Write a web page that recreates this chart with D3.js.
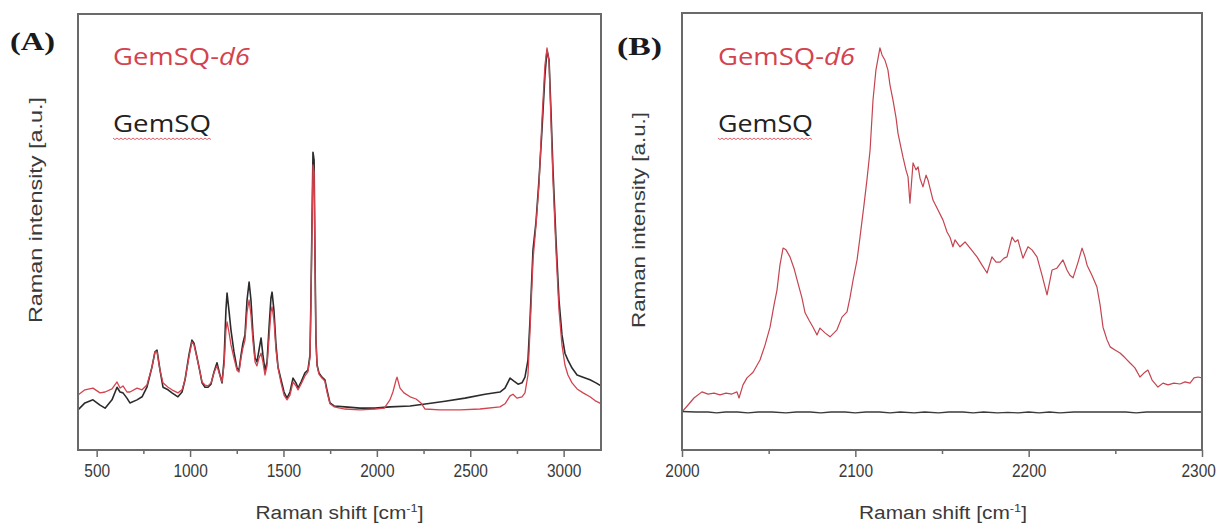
<!DOCTYPE html>
<html>
<head>
<meta charset="utf-8">
<script src="https://cdn.jsdelivr.net/npm/d3@7/dist/d3.min.js"></script>
<style>
  html, body { margin: 0; padding: 0; background: #fff; }
  svg { display: block; }
</style>
</head>
<body>
<svg id="chart" width="1223" height="527"></svg>
<script>
// ---- Panel A: full Raman spectra, [wavenumber (cm-1), intensity (a.u.)] ----
const spectrumA_GemSQ = [
  [400,9.2],[437,10.8],[480,11.5],[518,10.3],[545,9.6],[582,11.5],[609,14.4],[625,13.3],[641,13.1],
  [662,11.9],[678,10.8],[716,11.5],[743,12.2],[769,14.4],[796,19.0],[812,22.5],[823,22.9],[839,18.3],
  [855,14.4],[882,13.8],[903,13.1],[935,12.2],[957,13.3],[973,16.1],[994,21.8],[1010,25.2],[1021,24.5],
  [1037,21.3],[1053,17.9],[1064,15.4],[1080,14.4],[1096,14.4],[1112,15.1],[1128,17.9],[1144,20.0],
  [1160,17.2],[1171,15.4],[1182,20.6],[1192,32.1],[1198,36.0],[1208,32.1],[1219,27.5],[1235,22.5],
  [1251,18.8],[1262,18.3],[1273,21.8],[1283,24.5],[1294,26.4],[1305,34.4],[1316,38.5],[1326,34.4],
  [1337,26.4],[1348,21.1],[1358,20.2],[1369,22.9],[1380,25.7],[1390,21.8],[1401,18.3],[1412,20.2],
  [1422,27.5],[1433,34.9],[1439,36.2],[1449,32.1],[1460,24.1],[1471,19.0],[1487,16.1],[1503,13.3],
  [1519,11.9],[1535,13.3],[1551,16.5],[1567,15.4],[1578,14.2],[1594,15.6],[1615,17.7],[1631,18.3],
  [1642,21.8],[1647,34.4],[1653,52.8],[1658,68.3],[1664,66.5],[1669,43.6],[1674,25.2],[1680,19.5],
  [1690,17.7],[1706,16.7],[1722,16.1],[1733,13.8],[1749,10.8],[1771,10.1],[1829,9.9],[1910,9.6],
  [1990,9.6],[2070,9.9],[2178,10.1],[2269,10.6],[2365,11.2],[2472,11.9],[2579,12.8],[2659,13.3],
  [2686,14.2],[2713,16.5],[2734,15.8],[2756,15.1],[2777,15.4],[2793,16.7],[2809,20.6],[2820,29.8],
  [2836,45.9],[2852,52.3],[2868,61.9],[2884,73.4],[2900,86.0],[2911,91.7],[2922,89.4],[2932,78.0],
  [2943,64.2],[2959,48.2],[2975,34.4],[2991,26.4],[3007,22.2],[3023,20.6],[3045,18.8],[3072,17.2],
  [3104,16.7],[3141,16.1],[3173,15.4],[3200,14.7]
];
const spectrumA_GemSQd6 = [
  [400,12.6],[437,13.8],[480,14.2],[518,13.1],[545,13.3],[582,14.0],[609,15.6],[625,14.2],[641,14.7],
  [662,13.3],[678,13.3],[716,14.2],[743,13.8],[769,14.9],[796,19.0],[812,22.5],[823,22.5],[839,18.3],
  [855,15.4],[882,14.4],[903,13.8],[935,13.1],[957,13.8],[973,16.1],[994,21.3],[1010,24.8],[1021,24.1],
  [1037,21.1],[1053,17.9],[1064,15.6],[1080,14.9],[1096,14.7],[1112,15.4],[1128,17.7],[1144,19.3],
  [1160,17.0],[1171,15.6],[1182,19.5],[1192,27.5],[1198,29.4],[1208,27.1],[1219,24.1],[1235,21.1],
  [1251,18.3],[1262,17.9],[1273,21.1],[1283,23.4],[1294,25.2],[1305,31.7],[1316,34.4],[1326,31.0],
  [1337,24.8],[1348,20.2],[1358,19.3],[1369,21.1],[1380,22.2],[1390,20.2],[1401,17.2],[1412,19.3],
  [1422,25.2],[1433,31.7],[1439,32.8],[1449,29.8],[1460,22.9],[1471,18.8],[1487,15.4],[1503,12.6],
  [1519,11.5],[1535,12.6],[1551,15.6],[1567,14.7],[1578,13.8],[1594,15.1],[1615,17.0],[1631,17.9],
  [1642,21.1],[1647,33.3],[1653,51.6],[1658,65.4],[1664,63.8],[1669,42.4],[1674,24.8],[1680,19.3],
  [1690,17.4],[1706,16.5],[1722,15.8],[1733,13.3],[1749,10.6],[1771,9.9],[1829,9.4],[1910,9.2],
  [1990,9.4],[2040,9.6],[2070,11.5],[2086,13.3],[2103,16.1],[2108,16.7],[2124,14.2],[2145,13.1],
  [2178,12.2],[2210,11.7],[2236,10.8],[2258,9.4],[2338,9.2],[2445,9.2],[2552,9.4],[2659,9.9],
  [2686,10.6],[2713,12.4],[2729,12.8],[2750,11.9],[2777,12.2],[2793,13.1],[2809,17.2],[2820,27.5],
  [2836,43.6],[2852,51.6],[2868,60.8],[2884,75.7],[2900,88.3],[2911,92.2],[2922,89.0],[2932,75.7],
  [2943,61.9],[2959,45.9],[2975,32.1],[2991,24.1],[3007,19.5],[3023,17.2],[3045,15.4],[3072,14.0],
  [3104,13.1],[3141,12.2],[3173,11.2],[3200,10.6]
];

// ---- Panel B: C–D stretching window 2000–2300 cm-1 ----
const spectrumB_GemSQd6 = [
  [2000,8.7],[2003.5,10.3],[2006.9,11.9],[2011.5,13.3],[2015,12.8],[2018.5,13.0],[2021.9,12.6],
  [2025.4,13.0],[2028.8,12.8],[2031.7,13.3],[2032.9,11.9],[2035.2,14.9],[2037.5,16.5],[2041,17.8],
  [2045,20.6],[2047.9,24.0],[2050.8,28.1],[2053.1,33.2],[2054.8,36.6],[2056.5,42.3],[2058.3,46.2],
  [2060,45.8],[2062.3,44.2],[2064.6,41.6],[2066.9,38.2],[2069.2,34.8],[2071,31.4],[2073.3,29.7],
  [2075.6,28.1],[2077.9,26.3],[2079.6,27.9],[2082.5,26.8],[2085.4,25.9],[2087.7,26.8],[2089.4,27.5],
  [2092.3,30.4],[2095.2,31.6],[2096.9,34.8],[2098.7,38.9],[2101,43.5],[2102.7,48.7],[2105,56.1],
  [2106.7,61.8],[2108.5,68.6],[2110.2,80.1],[2111.9,87.0],[2114.2,92.0],[2115.4,90.4],[2117.1,89.2],
  [2118.8,87.0],[2120,83.5],[2121.7,80.1],[2123.5,76.0],[2124.6,72.5],[2126.4,69.1],[2127.5,67.0],
  [2129.2,64.1],[2130.4,62.5],[2131.5,56.5],[2133.3,65.7],[2135,64.1],[2136.2,64.8],[2137.3,62.2],
  [2139,60.2],[2140.8,62.9],[2141.9,61.8],[2144.8,57.2],[2147.7,54.9],[2150.6,52.6],[2152.9,49.9],
  [2154.6,48.7],[2156.3,46.5],[2157.5,48.1],[2160.4,46.5],[2163.3,47.6],[2166.2,46.2],[2170.2,44.2],
  [2173.1,42.3],[2176,40.5],[2178.8,44.2],[2181.2,43.0],[2183.5,43.0],[2185.8,43.9],[2187.5,44.2],
  [2190.4,48.7],[2192.2,47.6],[2193.8,48.1],[2196.7,43.9],[2199.6,46.5],[2201.9,45.8],[2204.8,44.2],
  [2207.7,40.0],[2210.6,35.5],[2213.5,41.2],[2216.3,41.6],[2219.8,43.5],[2222.1,41.2],[2223.8,40.0],
  [2225.6,39.4],[2228.5,43.0],[2230.8,46.2],[2232.5,44.2],[2233.7,42.3],[2236.5,40.0],[2239.4,37.3],
  [2241.2,33.2],[2242.9,28.1],[2245.2,25.2],[2247,23.6],[2249.8,22.9],[2252.7,22.2],[2255.6,21.1],
  [2258.5,19.9],[2261.3,18.8],[2264.2,16.7],[2266.5,17.6],[2268.8,18.3],[2271.2,16.0],[2274.6,14.4],
  [2277.5,15.3],[2280.4,14.9],[2283.8,15.3],[2287.3,15.1],[2290.2,15.6],[2293.1,15.3],[2295.4,16.5],
  [2297.7,16.7],[2300,16.5]
];
const spectrumB_GemSQ = [
  [2000,8.8],[2008,8.7],[2015,8.7],[2020,8.5],[2025,8.7],[2032,8.7],[2038,8.5],[2044,8.7],[2052,8.7],
  [2060,8.5],[2066,8.7],[2074,8.7],[2080,8.5],[2086,8.7],[2094,8.7],[2100,8.5],[2106,8.7],[2114,8.7],
  [2120,8.5],[2126,8.7],[2134,8.5],[2140,8.7],[2148,8.5],[2154,8.7],[2162,8.7],[2168,8.5],[2174,8.7],
  [2182,8.5],[2188,8.6],[2194,8.5],[2200,8.7],[2206,8.5],[2212,8.7],[2218,8.5],[2226,8.7],[2234,8.7],
  [2240,8.7],[2248,8.7],[2256,8.7],[2262,8.5],[2268,8.7],[2276,8.7],[2284,8.7],[2292,8.7],[2300,8.7]
];

// ---- axis tick values ----
const ticksA = [500, 1000, 1500, 2000, 2500, 3000];
const minorTicksA = [750, 1250, 1750, 2250, 2750];
const ticksB = [2000, 2100, 2200, 2300];
const minorTicksB = [2050, 2150, 2250];

const RED = "#d4424e";
const DARK = "#2b2b2b";
const FRAME = "#6a6a6a";
const CANVAS_W = 1223;

const svg = d3.select("#chart");

function panel(opts) {
  const x = d3.scaleLinear().domain(opts.xDomain).range([opts.left, opts.right]);
  const y = d3.scaleLinear().domain([0, 100]).range([opts.bottom, opts.top]);
  const g = svg.append("g");

  // bottom axis: major ticks with labels
  const major = g.append("g").attr("transform", `translate(0,${opts.bottom})`)
    .call(d3.axisBottom(x).tickValues(opts.ticks).tickSize(7).tickPadding(7).tickFormat(d3.format("d")));
  major.select(".domain").remove();
  major.selectAll(".tick line").attr("stroke", FRAME).attr("stroke-width", 1.5);
  major.selectAll(".tick text")
    .attr("font-family", "Liberation Sans, Arial, sans-serif")
    .attr("font-size", 18).attr("fill", "#3a3a3a")
    .attr("text-anchor", "start")
    .each(function(d) {
      // narrow digits; keep the last label inside the canvas
      const natural = this.getComputedTextLength();
      const w = String(d).length * 8.6;
      const tickX = x(d);
      let left = -w / 2;
      const room = CANVAS_W - 2 - tickX;
      if (left + Math.max(w, natural) > room) left = room - Math.max(w, natural);
      d3.select(this).attr("textLength", w).attr("lengthAdjust", "spacingAndGlyphs").attr("x", left);
    });

  // minor ticks
  const minor = g.append("g").attr("transform", `translate(0,${opts.bottom})`)
    .call(d3.axisBottom(x).tickValues(opts.minorTicks).tickSize(4).tickFormat(""));
  minor.select(".domain").remove();
  minor.selectAll(".tick line").attr("stroke", FRAME).attr("stroke-width", 1.5);

  const line = d3.line().x(d => x(d[0])).y(d => y(d[1]));

  const clip = "clip-" + opts.id;
  g.append("clipPath").attr("id", clip).append("rect")
    .attr("x", opts.left).attr("y", opts.top)
    .attr("width", opts.right - opts.left).attr("height", opts.bottom - opts.top);

  const plot = g.append("g").attr("clip-path", `url(#${clip})`);
  opts.series.forEach(s => {
    plot.append("path").datum(s.data)
      .attr("d", line).attr("fill", "none")
      .attr("stroke", s.color).attr("stroke-width", s.width)
      .attr("stroke-linejoin", "round");
  });

  // frame
  g.append("rect")
    .attr("x", opts.left).attr("y", opts.top)
    .attr("width", opts.right - opts.left).attr("height", opts.bottom - opts.top)
    .attr("fill", "none").attr("stroke", FRAME).attr("stroke-width", 2);

  // axis titles
  const xt = g.append("text")
    .attr("x", (opts.left + opts.right) / 2 + opts.xTitleShift).attr("y", 519)
    .attr("text-anchor", "middle")
    .attr("font-family", "Liberation Sans, Arial, sans-serif")
    .attr("font-size", 18).attr("fill", "#3a3a3a")
    .attr("textLength", 168).attr("lengthAdjust", "spacingAndGlyphs");
  xt.append("tspan").text("Raman shift [cm");
  xt.append("tspan").attr("font-size", 11).attr("dy", -7).text("-1");
  xt.append("tspan").attr("dy", 7).text("]");

  g.append("text")
    .attr("transform", `translate(${opts.yTitleX},${opts.yTitleY}) rotate(-90)`)
    .attr("text-anchor", "middle")
    .attr("font-family", "Liberation Sans, Arial, sans-serif")
    .attr("font-size", 18).attr("fill", "#3a3a3a")
    .attr("textLength", opts.yTitleLen).attr("lengthAdjust", "spacingAndGlyphs")
    .text("Raman intensity [a.u.]");

  // panel letter
  g.append("text")
    .attr("x", opts.letterX).attr("y", opts.letterY)
    .attr("font-family", "Liberation Serif, Times New Roman, serif")
    .attr("font-weight", "bold").attr("font-size", 25).attr("fill", "#1a1a1a")
    .attr("textLength", 45).attr("lengthAdjust", "spacingAndGlyphs")
    .text(opts.letter);

  // sample names
  const lx = opts.legendX;
  const t1 = g.append("text")
    .attr("x", lx).attr("y", 65)
    .attr("font-family", "Open Sans, Noto Sans, sans-serif")
    .attr("font-size", 23).attr("fill", RED)
    .attr("textLength", opts.legendLen1).attr("lengthAdjust", "spacingAndGlyphs");
  t1.append("tspan").text("GemSQ-");
  t1.append("tspan").attr("font-style", "italic").text("d6");

  g.append("text")
    .attr("x", lx).attr("y", 132)
    .attr("font-family", "Open Sans, Noto Sans, sans-serif")
    .attr("font-size", 23).attr("fill", "#222")
    .attr("textLength", opts.legendLen2).attr("lengthAdjust", "spacingAndGlyphs")
    .text("GemSQ");

  // wavy spell-check underline beneath the second name
  const wave = [];
  for (let px = lx; px <= lx + opts.legendLen2; px += 2) {
    wave.push([px, 138 + (((px - lx) / 2) % 2 === 0 ? 0 : 1.6)]);
  }
  g.append("path").datum(wave)
    .attr("d", d3.line())
    .attr("fill", "none").attr("stroke", "#e0606c").attr("stroke-width", 1);
}

panel({
  id: "A", xDomain: [400, 3200], left: 78, right: 601, top: 14, bottom: 450,
  ticks: ticksA, minorTicks: minorTicksA,
  series: [
    { data: spectrumA_GemSQ, color: DARK, width: 1.6 },
    { data: spectrumA_GemSQd6, color: RED, width: 1.3 }
  ],
  xTitleShift: 0, yTitleX: 42, yTitleY: 210, yTitleLen: 226,
  letter: "(A)", letterX: 10, letterY: 50,
  legendX: 113, legendLen1: 137, legendLen2: 98
});

panel({
  id: "B", xDomain: [2000, 2300], left: 682, right: 1202, top: 13, bottom: 450,
  ticks: ticksB, minorTicks: minorTicksB,
  series: [
    { data: spectrumB_GemSQd6, color: "#c44450", width: 1.2 },
    { data: spectrumB_GemSQ, color: "#3a3a3a", width: 1.4 }
  ],
  xTitleShift: 1, yTitleX: 645, yTitleY: 220, yTitleLen: 216,
  letter: "(B)", letterX: 617, letterY: 55,
  legendX: 718, legendLen1: 137, legendLen2: 95
});
</script>
</body>
</html>
